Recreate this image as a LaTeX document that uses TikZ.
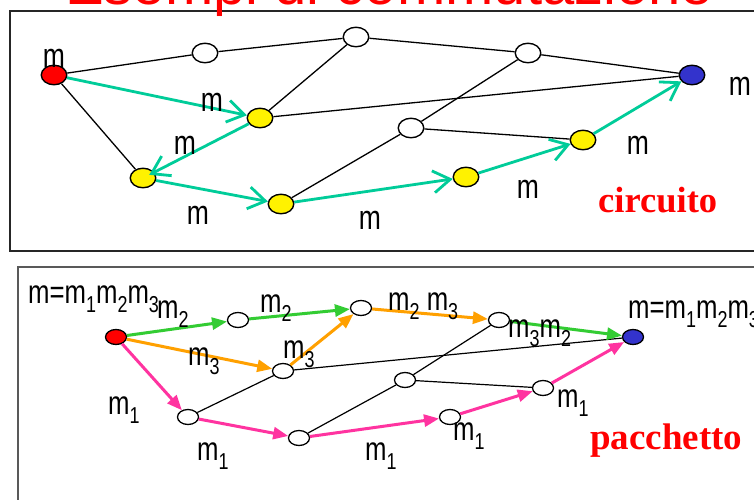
\documentclass[tikz,border=0pt]{standalone}
\usepackage{fontspec}
\setmainfont{Liberation Sans}
\newfontfamily\narrowfont[FakeStretch=0.78]{Liberation Sans}
\newfontfamily\timesfont{Liberation Serif}
\usetikzlibrary{shapes.geometric,arrows.meta}
\newcommand\msub[1]{\raisebox{-9pt}{\fontsize{23}{23}\selectfont #1}}
\definecolor{tealc}{RGB}{0,204,153}
\definecolor{grnc}{RGB}{51,204,51}
\definecolor{orgc}{RGB}{255,160,0}
\definecolor{pnkc}{RGB}{255,51,160}
\definecolor{bluc}{RGB}{51,51,204}
\tikzset{
  tnode/.style={ellipse, draw, line width=1.4pt, minimum width=25.5pt, minimum height=19.5pt, inner sep=0pt, fill=white},
  bnode/.style={ellipse, draw, line width=1.3pt, minimum width=21pt, minimum height=15pt, inner sep=0pt, fill=white},
  tedge/.style={line width=1.3pt},
  bedge/.style={line width=1.2pt},
  tarrow/.style={draw=tealc, line width=2.8pt, -{Straight Barb[length=17pt,width=22pt]}},
  barrow/.style={line width=3pt, -{Triangle[length=15pt,width=12pt]}},
  tlbl/.style={font=\narrowfont\fontsize{34}{34}\selectfont, inner sep=0pt},
  blbl/.style={font=\narrowfont\fontsize{33}{33}\selectfont, inner sep=0pt, anchor=base west},
  kind/.style={font=\timesfont\bfseries\fontsize{36.5}{36.5}\selectfont, text=red, inner sep=0pt, anchor=base west}
}
\begin{document}
\begin{tikzpicture}[x=1pt,y=-1pt]
\clip (0,0) rectangle (754,499);
\fill[white] (0,0) rectangle (754,499);
% frames
\draw[line width=1.3pt, black!85] (10,11) rectangle (770,251);
\draw[line width=2pt, black!65] (18,267) rectangle (770,520);
% title
\node[font=\fontsize{58}{58}\selectfont, text=red, anchor=base west, inner sep=0pt] (title) at (65,4) {Esempi di commutazione};

% ---------- top panel: circuito ----------
\node[tnode, fill=red] (r) at (54,75) {};
\node[tnode] (w1) at (205,53) {};
\node[tnode] (w2) at (356,37) {};
\node[tnode] (w3) at (528,53) {};
\node[tnode, fill=bluc] (b) at (692,75) {};
\node[tnode, fill=yellow] (ya) at (260,118) {};
\node[tnode, fill=yellow] (yb) at (143,178) {};
\node[tnode, fill=yellow] (yc) at (281,204) {};
\node[tnode] (w4) at (411,128) {};
\node[tnode, fill=yellow] (yd) at (583,140) {};
\node[tnode, fill=yellow] (ye) at (466,177) {};

\draw[tedge] (r) -- (w1);
\draw[tedge] (w1) -- (w2);
\draw[tedge] (w2) -- (w3);
\draw[tedge] (w3) -- (b);
\draw[tedge] (r) -- (yb);
\draw[tedge] (ya) -- (w2);
\draw[tedge] (ya) -- (b);
\draw[tedge] (yc) -- (w4);
\draw[tedge] (w4) -- (w3);
\draw[tedge] (w4) -- (yd);

\draw[tarrow] (r) -- (ya);
\draw[tarrow, shorten >=7pt] (ya) -- (yb.center);
\draw[tarrow] (yb) -- (yc);
\draw[tarrow] (yc) -- (ye);
\draw[tarrow] (ye) -- (yd);
\draw[tarrow] (yd) -- (b);

\node[tlbl] (t1) at (54,58) {m};
\node[tlbl] (t2) at (212,102) {m};
\node[tlbl] (t3) at (185,145) {m};
\node[tlbl] (t4) at (198,215) {m};
\node[tlbl] (t5) at (370,220) {m};
\node[tlbl] (t6) at (528,189) {m};
\node[tlbl] (t7) at (638,145) {m};
\node[tlbl] (t8) at (740,86) {m};
\node[kind] (circ) at (598,212) {circuito};

% ---------- bottom panel: pacchetto ----------
\node[bnode, fill=red] (R) at (116,337) {};
\node[bnode] (A) at (238,320) {};
\node[bnode] (B) at (361,308) {};
\node[bnode] (C) at (283,371) {};
\node[bnode] (D) at (188,417) {};
\node[bnode] (E) at (299,438) {};
\node[bnode] (F) at (499,320) {};
\node[bnode] (G) at (405,380) {};
\node[bnode] (H) at (543,388) {};
\node[bnode] (I) at (450,417) {};
\node[bnode, fill=bluc] (Bl) at (633,337) {};

\draw[bedge] (C) -- (Bl);
\draw[bedge] (D) -- (C);
\draw[bedge] (E) -- (G);
\draw[bedge] (G) -- (F);
\draw[bedge] (G) -- (H);

\draw[barrow, grnc] (R) -- (A);
\draw[barrow, grnc] (A) -- (B);
\draw[barrow, grnc] (F) -- (Bl);
\draw[barrow, orgc] (R) -- (C);
\draw[barrow, orgc] (C) -- (B);
\draw[barrow, orgc] (B) -- (F);
\draw[barrow, pnkc] (R) -- (D);
\draw[barrow, pnkc] (D) -- (E);
\draw[barrow, pnkc] (E) -- (I);
\draw[barrow, pnkc] (I) -- (H);
\draw[barrow, pnkc] (H) -- (Bl);

\node[blbl] (s1) at (28,303) {m=m\msub1m\msub2m\msub3};
\node[blbl] (s2) at (157,318) {m\msub2};
\node[blbl] (s3) at (260,312) {m\msub2};
\node[blbl] (s4) at (188,365) {m\msub3};
\node[blbl] (s5) at (283,358) {m\msub3};
\node[blbl] (s6) at (108,414) {m\msub1};
\node[blbl] (s7) at (197,460) {m\msub1};
\node[blbl] (s8) at (388,310) {m\msub2 m\msub3};
\node[blbl] (s9) at (508,337) {m\msub3m\msub2};
\node[blbl] (s10) at (628,318) {m=m\msub1m\msub2m\msub3};
\node[blbl] (s11) at (557,407) {m\msub1};
\node[blbl] (s12) at (453,440) {m\msub1};
\node[blbl] (s13) at (365,460) {m\msub1};
\node[kind, font=\timesfont\bfseries\fontsize{37}{37}\selectfont] (pacc) at (590,449) {pacchetto};
\end{tikzpicture}
\end{document}
